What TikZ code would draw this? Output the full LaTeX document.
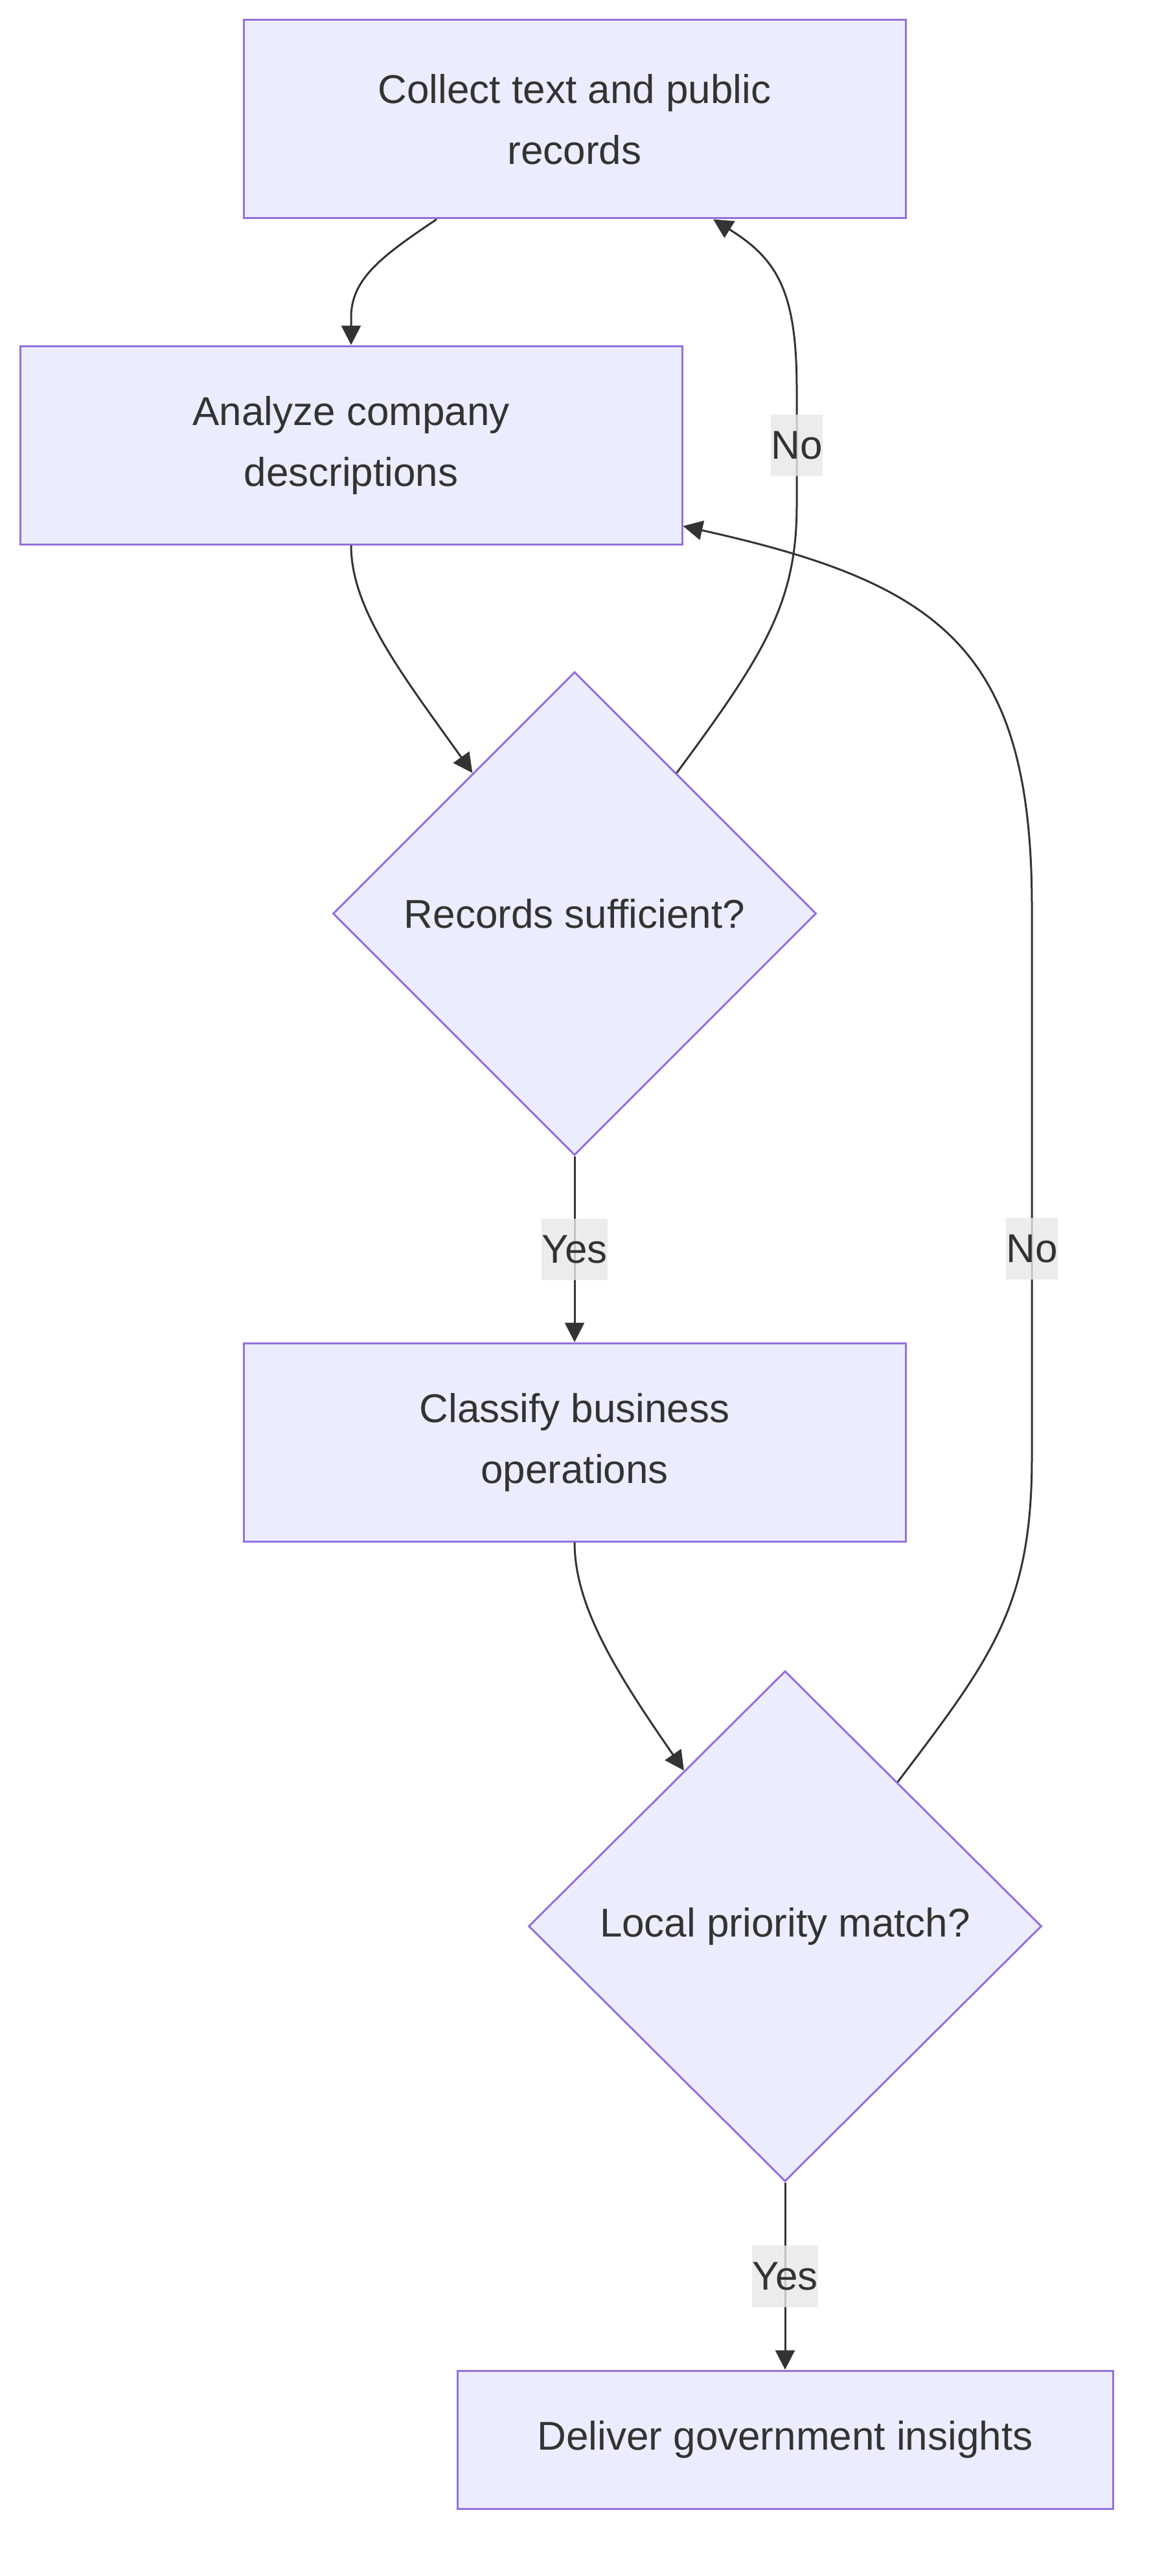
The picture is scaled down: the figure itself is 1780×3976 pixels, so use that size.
\documentclass[tikz,border=0pt]{standalone}
\usepackage{fontspec}
\setmainfont{Liberation Sans}
\usepackage{xcolor}
\usetikzlibrary{shapes.geometric,arrows.meta}
\definecolor{nodefill}{HTML}{ECECFF}
\definecolor{nodeline}{HTML}{9370DB}
\definecolor{ink}{HTML}{333333}
\definecolor{lblfill}{HTML}{E8E8E8}

\begin{document}
\begin{tikzpicture}[
  x=0.5pt, y=-0.5pt,
  box/.style={rectangle, draw=nodeline, fill=nodefill, line width=1.5pt, align=center, text=ink, font=\fontsize{31}{47}\selectfont, inner sep=0pt, minimum width=511pt, minimum height=153pt},
  dec/.style={diamond, aspect=1, draw=nodeline, fill=nodefill, line width=1.5pt, align=center, text=ink, font=\fontsize{31}{47}\selectfont, inner sep=0pt},
  arr/.style={-{Triangle[length=15pt,width=15pt]}, line width=1.5pt, draw=ink},
  lbl/.style={fill=lblfill, fill opacity=0.8, text opacity=1, text=ink, font=\fontsize{31}{47}\selectfont, inner xsep=0pt, inner ysep=0pt, minimum height=47.5pt}
]
\fill[white] (0,0) rectangle (1780,3976);
\node[box] (a) at (887,184) {Collect text and public\\records};
\node[box] (b) at (542,687) {Analyze company\\descriptions};
\node[dec, minimum width=373pt, minimum height=373pt] (c) at (887,1410) {Records sufficient?};
\node[box] (d) at (887,2226) {Classify business\\operations};
\node[dec, minimum width=396pt, minimum height=394pt] (e) at (1212,2973) {Local priority match?};
\node[box, minimum width=506pt, minimum height=106.5pt] (f) at (1212,3765.5) {Deliver government insights};
\draw[arr] ([xshift=-106.5pt]a.south) .. controls (590,395) and (542,430) .. (542,490) -- (b.north);
\draw[arr] (b.south) .. controls (542,940) and (620,1040) .. (c.126.5);
\draw[arr] (c.54) .. controls (1180,1010) and (1230,930) .. (1230,780) -- (1230,687) node[lbl] (no1) {No} -- (1230,600) .. controls (1230,450) and (1200,400) .. ([xshift=107pt]a.south);
\draw[arr] (c) -- node[lbl] (yes1) {Yes} (d);
\draw[arr] (d.south) .. controls (887,2478) and (950,2580) .. (e.123.2);
\draw[arr] (e.52.5) .. controls (1530,2560) and (1593,2480) .. (1593,2250) -- (1593,1927) node[lbl] (no2) {No} -- (1593,1400) .. controls (1593,1000) and (1450,900) .. ([yshift=-62.5pt]b.east);
\draw[arr] (e) -- node[lbl] (yes2) {Yes} (f);
\end{tikzpicture}
\end{document}
